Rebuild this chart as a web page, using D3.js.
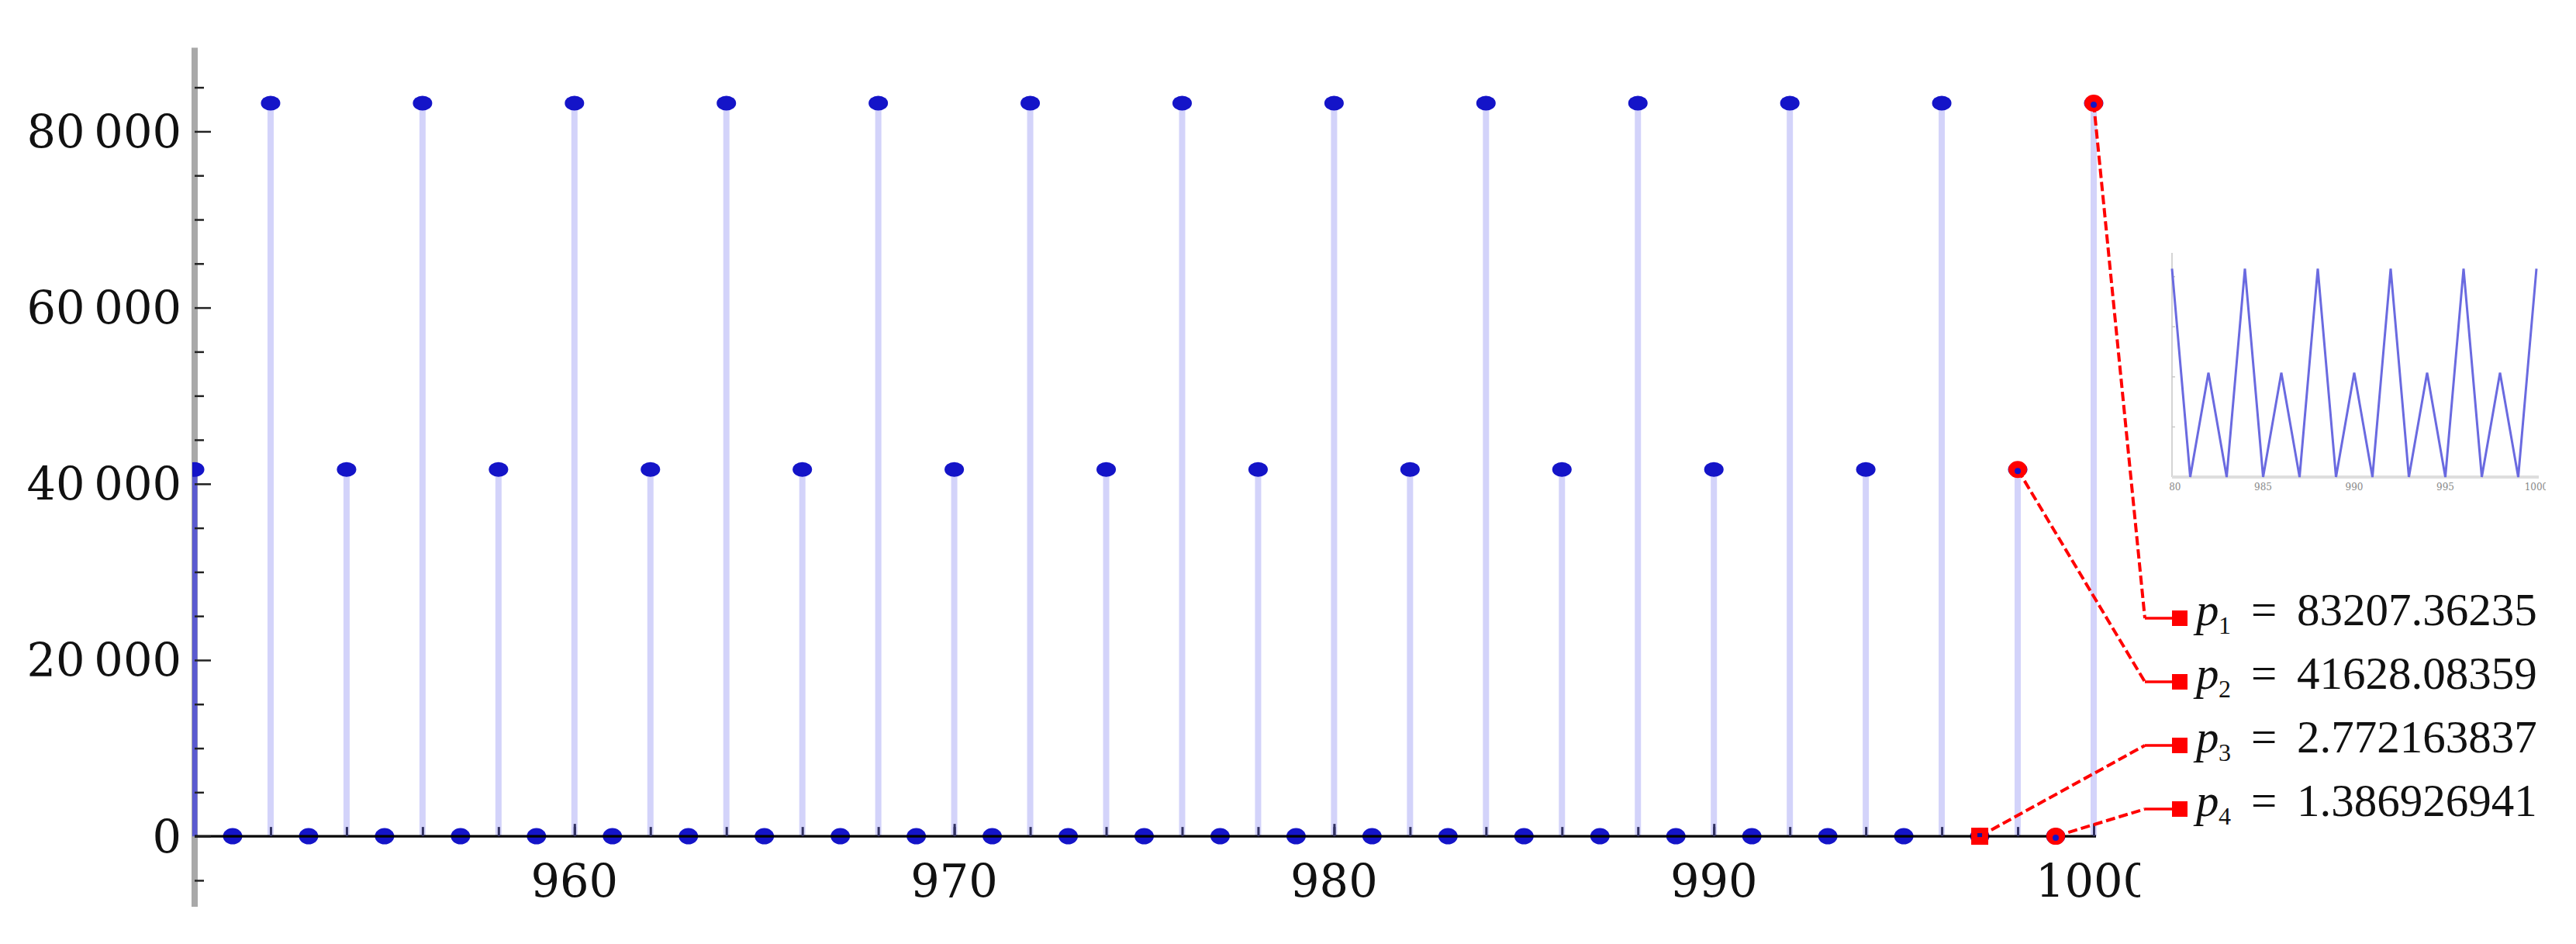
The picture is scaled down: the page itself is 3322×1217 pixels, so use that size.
<!DOCTYPE html>
<html><head><meta charset="utf-8">
<script src="https://cdn.jsdelivr.net/npm/d3@7"></script>
<style>html,body{margin:0;padding:0;background:#fff;} svg{display:block}</style>
</head><body>
<svg id="chart" width="3322" height="1217"></svg>
<script>
// ---------- data ----------
const xValues = [950,951,952,953,954,955,956,957,958,959,960,961,962,963,964,965,966,967,968,969,
  970,971,972,973,974,975,976,977,978,979,980,981,982,983,984,985,986,987,988,989,
  990,991,992,993,994,995,996,997,998,999,1000];
const yValues = [
  41628.08359, 1.386926941, 83207.36235, 2.772163837,
  41628.08359, 1.386926941, 83207.36235, 2.772163837,
  41628.08359, 1.386926941, 83207.36235, 2.772163837,
  41628.08359, 1.386926941, 83207.36235, 2.772163837,
  41628.08359, 1.386926941, 83207.36235, 2.772163837,
  41628.08359, 1.386926941, 83207.36235, 2.772163837,
  41628.08359, 1.386926941, 83207.36235, 2.772163837,
  41628.08359, 1.386926941, 83207.36235, 2.772163837,
  41628.08359, 1.386926941, 83207.36235, 2.772163837,
  41628.08359, 1.386926941, 83207.36235, 2.772163837,
  41628.08359, 1.386926941, 83207.36235, 2.772163837,
  41628.08359, 1.386926941, 83207.36235, 2.772163837,
  41628.08359, 1.386926941, 83207.36235];
const xTickLabels = [960, 970, 980, 990, 1000];
const xMinorTicks = [952,954,956,958,960,962,964,966,968,970,972,974,976,978,980,982,984,986,988,990,992,994,996,998,1000];
const yTickLabels = [0, 20000, 40000, 60000, 80000];
const yMinorTicks = [-5000,5000,10000,15000,25000,30000,35000,45000,50000,55000,65000,70000,75000,85000];
const insetTickLabels = [980, 985, 990, 995, 1000];
const insetYTicks = [20000, 40000, 60000, 80000];
const annoNames = ["1", "2", "3", "4"];
const annoX = [1000, 998, 997, 999];

const data = xValues.map((x, i) => ({x, v: yValues[i]}));

// ---------- scales ----------
const x = d3.scaleLinear().domain([950, 1000]).range([251, 2700]);
const y = d3.scaleLinear().domain([-8000, 89500]).range([1169, 61.5]);
const ix = d3.scaleLinear().domain([980, 1000]).range([2801, 3271]);
const iy = d3.scaleLinear().domain([0, 89500]).range([615, 326]);

const svg = d3.select("#chart");
const defs = svg.append("defs");
defs.append("clipPath").attr("id", "plotClip").append("rect")
  .attr("x", 248).attr("y", 0).attr("width", 2600).attr("height", 1217);
defs.append("clipPath").attr("id", "xLabClip").append("rect")
  .attr("x", 0).attr("y", 0).attr("width", 2760).attr("height", 1217);
defs.append("clipPath").attr("id", "insetClip").append("rect")
  .attr("x", 2797).attr("y", 300).attr("width", 486).attr("height", 360);

// ---------- y axis (gray bar) ----------
svg.append("line")
  .attr("x1", x(950)).attr("x2", x(950))
  .attr("y1", y(89500)).attr("y2", y(-8000))
  .attr("stroke", "#a9a9a9").attr("stroke-width", 8);

// ---------- stems ----------
const plot = svg.append("g").attr("clip-path", "url(#plotClip)");
plot.selectAll("line.stem").data(data.filter(d => d.v > 100)).join("line")
  .attr("class", "stem")
  .attr("x1", d => x(d.x)).attr("x2", d => x(d.x))
  .attr("y1", y(0)).attr("y2", d => y(d.v))
  .attr("stroke", d => d.x === x.domain()[0] ? "#5a5ad0" : "#d3d3fa")
  .attr("stroke-width", d => d.x === x.domain()[0] ? 7 : 8);

// ---------- x axis line + ticks ----------
svg.append("line")
  .attr("x1", x(950)).attr("x2", x(1000) + 3)
  .attr("y1", y(0)).attr("y2", y(0))
  .attr("stroke", "#000").attr("stroke-width", 3.2);

const xMinorAxis = svg.append("g").attr("transform", `translate(0,${y(0)})`)
  .call(d3.axisTop(x).tickValues(xMinorTicks).tickSize(12).tickFormat(""));
const xMajorAxis = svg.append("g").attr("transform", `translate(0,${y(0)})`)
  .call(d3.axisTop(x).tickValues(xTickLabels).tickSize(16).tickFormat(""));
[xMinorAxis, xMajorAxis].forEach(g => {
  g.select(".domain").remove();
  g.selectAll(".tick line").attr("stroke", "#303060").attr("stroke-width", 3);
});

const yMinorAxis = svg.append("g").attr("transform", `translate(${x(950)},0)`)
  .call(d3.axisRight(y).tickValues(yMinorTicks).tickSize(12).tickFormat(""));
const yMajorAxis = svg.append("g").attr("transform", `translate(${x(950)},0)`)
  .call(d3.axisRight(y).tickValues(yTickLabels).tickSize(21).tickFormat(""));
[yMinorAxis, yMajorAxis].forEach(g => {
  g.select(".domain").remove();
  g.selectAll(".tick line").attr("stroke", "#222").attr("stroke-width", 2.5);
});

// ---------- tick labels ----------
const fmtY = d => d === 0 ? "0" : d3.format("d")(d).replace(/(\d+)(\d{3})$/, "$1\u2009$2");
svg.append("g").selectAll("text").data(yTickLabels).join("text")
  .attr("x", 234).attr("y", d => y(d) + 21.5)
  .attr("text-anchor", "end")
  .attr("font-family", "DejaVu Serif").attr("font-size", 59)
  .attr("fill", "#111")
  .text(fmtY);

svg.append("g").attr("clip-path", "url(#xLabClip)")
  .selectAll("text").data(xTickLabels).join("text")
  .attr("x", d => x(d)).attr("y", 1157)
  .attr("text-anchor", "middle")
  .attr("font-family", "DejaVu Serif").attr("font-size", 59)
  .attr("fill", "#111")
  .text(d => d);

// ---------- dots ----------
plot.selectAll("ellipse.dot").data(data).join("ellipse")
  .attr("class", "dot")
  .attr("cx", d => x(d.x)).attr("cy", d => y(d.v))
  .attr("rx", 12.5).attr("ry", d => d.v > 100 ? 9.5 : 10.5)
  .attr("fill", "#1414c8");

// ---------- inset ----------
const inset = svg.append("g");
inset.append("line")
  .attr("x1", ix(980)).attr("x2", ix(980))
  .attr("y1", iy(89500)).attr("y2", iy(0))
  .attr("stroke", "#d4d4d4").attr("stroke-width", 2);
inset.append("line")
  .attr("x1", ix(980)).attr("x2", ix(1000) + 3)
  .attr("y1", iy(0)).attr("y2", iy(0))
  .attr("stroke", "#dedede").attr("stroke-width", 4);
inset.selectAll("line.itick").data(insetYTicks).join("line")
  .attr("class", "itick")
  .attr("x1", ix(980)).attr("x2", ix(980) + 4)
  .attr("y1", d => iy(d)).attr("y2", d => iy(d))
  .attr("stroke", "#c8c8c8").attr("stroke-width", 1.5);
inset.append("g").attr("clip-path", "url(#insetClip)")
  .selectAll("text").data(insetTickLabels).join("text")
  .attr("x", d => ix(d)).attr("y", 632)
  .attr("text-anchor", "middle")
  .attr("font-family", "DejaVu Serif").attr("font-size", 12)
  .attr("fill", "#888")
  .text(d => d);
inset.append("path")
  .datum(data.filter(d => d.x >= 980))
  .attr("fill", "none")
  .attr("stroke", "#6a6ae0").attr("stroke-width", 3)
  .attr("stroke-linejoin", "miter")
  .attr("d", d3.line().x(d => ix(d.x)).y(d => iy(d.v)));

// ---------- annotations ----------
const rowY = [797, 879, 961, 1043];
const elbowX = 2766, squareX = 2811;
const annos = annoX.map((ax, i) => {
  const d = data.find(p => p.x === ax);
  return {name: annoNames[i], x: ax, v: d.v, row: rowY[i]};
});
const ag = svg.append("g");
ag.selectAll("path.lead").data(annos).join("path")
  .attr("class", "lead")
  .attr("fill", "none").attr("stroke", "#ff0000").attr("stroke-width", 4)
  .attr("stroke-dasharray", "12,5")
  .attr("d", d => `M${x(d.x)},${y(d.v)}L${elbowX},${d.row}`);
ag.selectAll("line.hz").data(annos).join("line")
  .attr("class", "hz")
  .attr("x1", elbowX).attr("x2", squareX).attr("y1", d => d.row).attr("y2", d => d.row)
  .attr("stroke", "#ff0000").attr("stroke-width", 3.5);
ag.selectAll("rect.sq").data(annos).join("rect")
  .attr("class", "sq")
  .attr("x", squareX - 10).attr("y", d => d.row - 10)
  .attr("width", 20).attr("height", 20).attr("fill", "#ff0000");
// point markers
ag.selectAll("g.mk").data(annos).join("g").attr("class", "mk")
  .each(function(d) {
    const g = d3.select(this);
    const cx = x(d.x), cy = y(d.v);
    if (d.name === "3") {
      g.append("rect").attr("x", cx - 11).attr("y", cy - 11).attr("width", 22).attr("height", 22).attr("fill", "#ff0000");
      g.append("rect").attr("x", cx - 3).attr("y", cy - 4).attr("width", 6).attr("height", 5).attr("fill", "#1010a0");
    } else {
      g.append("ellipse").attr("cx", cx).attr("cy", cy).attr("rx", 12).attr("ry", 11).attr("fill", "#ff0000");
      g.append("ellipse").attr("cx", cx).attr("cy", cy + 2).attr("rx", 4).attr("ry", 4).attr("fill", "#1414c8");
    }
  });
// labels
ag.selectAll("text.lab").data(annos).join("text")
  .attr("class", "lab")
  .attr("font-family", "Liberation Serif").attr("font-size", 59).attr("fill", "#111")
  .each(function(d) {
    const t = d3.select(this);
    const base = d.row + 9;
    t.append("tspan").attr("x", 2832).attr("y", base).attr("font-style", "italic").text("p");
    t.append("tspan").attr("x", 2861).attr("y", base + 11).attr("font-size", 32).text(d.name);
    t.append("tspan").attr("x", 2903).attr("y", base).text("=");
    t.append("tspan").attr("x", 2962).attr("y", base).text(d.v.toPrecision(10));
  });
</script>
</body></html>
